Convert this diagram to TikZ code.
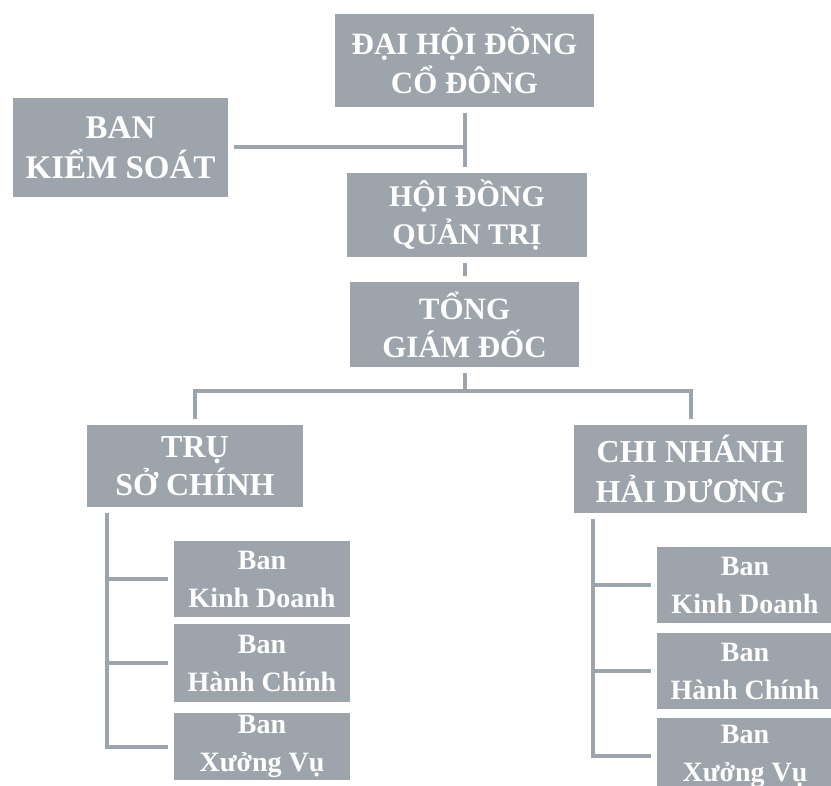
\documentclass[tikz,border=0pt]{standalone}
\usepackage{fontspec}
\setmainfont{Liberation Serif}
\usetikzlibrary{positioning, calc}
\definecolor{boxgray}{RGB}{158,164,172}

\begin{document}
\begin{tikzpicture}[x=1pt, y=-1pt,
		box/.style={fill=boxgray, text=white, align=center, inner sep=0pt, outer sep=6pt,
			font=\bfseries\fontsize{30}{38}\selectfont},
		ban/.style={box, minimum width=176pt, font=\bfseries\fontsize{28}{38}\selectfont},
		link/.style={draw=boxgray, line width=4pt}]
			\clip (0,0) rectangle (831,786);
			\fill[white] (0,0) rectangle (831,786);
			\node[box, minimum width=259pt, minimum height=93pt, font=\bfseries\fontsize{31}{39}\selectfont] (dh) at (464.5,60.5) {ĐẠI HỘI ĐỒNG\\CỔ ĐÔNG};
			\node[box, minimum width=215pt, minimum height=99pt, font=\bfseries\fontsize{33}{40}\selectfont] (bk) at (120.5,147.5) {BAN\\KIỂM SOÁT};
			\node[box, minimum width=240pt, minimum height=84pt] (hd) at (467,215) {HỘI ĐỒNG\\QUẢN TRỊ};
			\node[box, minimum width=229pt, minimum height=85pt, font=\bfseries\fontsize{31}{38}\selectfont] (tg) at (464.5,324.5) {TỔNG\\GIÁM ĐỐC};
			\node[box, minimum width=216pt, minimum height=82pt, font=\bfseries\fontsize{32}{38}\selectfont] (ts) at (195,466) {TRỤ\\SỞ CHÍNH};
			\node[box, minimum width=233pt, minimum height=88pt, font=\bfseries\fontsize{32}{40}\selectfont] (cn) at (690.5,469) {CHI NHÁNH\\HẢI DƯƠNG};
			\node[ban, minimum height=76pt] (kd1) at (262,579) {Ban\\Kinh Doanh};
			\node[ban, minimum height=78pt] (hc1) at (262,663) {Ban\\Hành Chính};
			\node[ban, minimum height=67pt] (xv1) at (262,746.5) {Ban\\Xưởng Vụ};
			\node[ban, minimum height=76pt] (kd2) at (745,585) {Ban\\Kinh Doanh};
			\node[ban, minimum height=76pt] (hc2) at (745,671) {Ban\\Hành Chính};
			\node[ban, minimum height=76pt] (xv2) at (745,756) {Ban\\Xưởng Vụ};
			\coordinate (split) at ($(tg.south)+(0,18)$);
			\draw[link] (dh.south) -- (dh.south |- hd.north);
			\draw[link] (bk.east) -- (bk.east -| dh.south);
			\draw[link] (tg.north |- hd.south) -- (tg.north);
			\draw[link] (tg.south) -- (split);
			\draw[link] (ts.north) |- (split) -| (cn.north);
			\foreach \b in {kd1,hc1,xv1}
				\draw[link] ([xshift=26pt]ts.south west) |- (\b.west);
			\foreach \b in {kd2,hc2,xv2}
				\draw[link] ([xshift=25pt]cn.south west) |- (\b.west);
		\end{tikzpicture}
\end{document}
